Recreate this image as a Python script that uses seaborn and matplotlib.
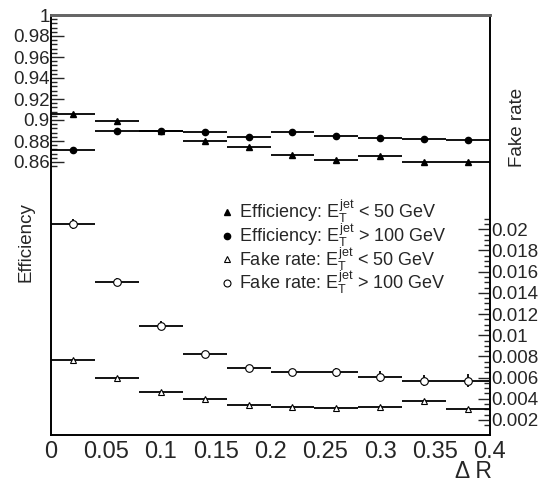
import matplotlib
matplotlib.use("Agg")
import matplotlib.pyplot as plt
import seaborn as sns
import numpy as np
from matplotlib.lines import Line2D
from matplotlib.ticker import FixedLocator

# Delta R bins (10 bins of width 0.04)
bin_centers = [0.02, 0.06, 0.10, 0.14, 0.18, 0.22, 0.26, 0.30, 0.34, 0.38]
bin_half_width = 0.02

# Efficiency (left axis)
eff_low = [0.906, 0.899, 0.890, 0.880, 0.874, 0.867, 0.862, 0.866, 0.860, 0.860]
eff_high = [0.871, 0.890, 0.890, 0.889, 0.884, 0.889, 0.885, 0.883, 0.882, 0.881]

# Fake rate (right axis)
fake_low = [0.0077, 0.0060, 0.0046, 0.0040, 0.0034, 0.0032, 0.0031, 0.0032, 0.0038, 0.0030]
fake_high = [0.0205, 0.0150, 0.0109, 0.0082, 0.0069, 0.0065, 0.0065, 0.0061, 0.0057, 0.0057]
fake_high_err = [0.0005, 0.0004, 0.0004, 0.0003, 0.0003, 0.0003, 0.0004, 0.0005, 0.0005, 0.0006]

legend_labels = [
    r"Efficiency: $E_T^{jet}$ < 50 GeV",
    r"Efficiency: $E_T^{jet}$ > 100 GeV",
    r"Fake rate: $E_T^{jet}$ < 50 GeV",
    r"Fake rate: $E_T^{jet}$ > 100 GeV",
]

sns.set_style("white")
plt.rcParams["font.family"] = ["Liberation Sans", "DejaVu Sans"]
plt.rcParams["mathtext.fontset"] = "custom"
plt.rcParams["mathtext.rm"] = "Liberation Sans"
plt.rcParams["mathtext.it"] = "Liberation Sans"
plt.rcParams["mathtext.bf"] = "Liberation Sans"

fig = plt.figure(figsize=(5.4, 4.83), dpi=100)
ax = fig.add_axes([51 / 540, 48 / 483, 439 / 540, 420 / 483])
ax2 = ax.twinx()

x = np.array(bin_centers)
ebar = dict(color="black", elinewidth=1.3, capsize=0, linestyle="none")

ax.errorbar(x, eff_low, xerr=bin_half_width, marker="^", ms=4.5,
            mfc="black", mec="black", **ebar)
ax.errorbar(x, eff_high, xerr=bin_half_width, marker="o", ms=4.5,
            mfc="black", mec="black", **ebar)
ax2.errorbar(x, fake_low, xerr=bin_half_width, marker="^", ms=5,
             mfc="white", mec="black", mew=0.8, **ebar)
ax2.errorbar(x, fake_high, xerr=bin_half_width, yerr=fake_high_err,
             marker="o", ms=5.5, mfc="white", mec="black", mew=0.8, **ebar)

ax.set_xlim(0, 0.4)
ax.set_ylim(0.6, 1.0)
ax2.set_ylim(0.00058, 0.04023)

# x ticks
ax.xaxis.set_major_locator(FixedLocator(np.arange(0, 0.401, 0.05)))
ax.xaxis.set_minor_locator(FixedLocator(np.arange(0, 0.401, 0.01)))
ax.set_xticklabels(["0", "0.05", "0.1", "0.15", "0.2", "0.25", "0.3", "0.35", "0.4"])

# left ticks only over the efficiency range
left_major = np.round(np.arange(0.86, 1.001, 0.02), 3)
ax.yaxis.set_major_locator(FixedLocator(left_major))
ax.yaxis.set_minor_locator(FixedLocator(np.arange(0.856, 1.0, 0.004)))
ax.set_yticklabels(["0.86", "0.88", "0.9", "0.92", "0.94", "0.96", "0.98", "1"])

# right ticks only over the fake-rate range
right_major = np.round(np.arange(0.002, 0.0201, 0.002), 4)
ax2.yaxis.set_major_locator(FixedLocator(right_major))
ax2.yaxis.set_minor_locator(FixedLocator(np.arange(0.0015, 0.0211, 0.0005)))
ax2.set_yticklabels(["0.002", "0.004", "0.006", "0.008", "0.01",
                     "0.012", "0.014", "0.016", "0.018", "0.02"])

ax.tick_params(axis="x", which="major", direction="in", length=11, width=1,
               labelsize=17, pad=4, top=False)
ax.tick_params(axis="x", which="minor", direction="in", length=6, width=1, top=False)
ax.tick_params(axis="y", which="major", direction="in", length=9, width=1,
               labelsize=13.5, pad=1, right=False)
ax.tick_params(axis="y", which="minor", direction="in", length=4, width=1, right=False)
ax2.tick_params(axis="y", which="major", direction="in", length=9, width=1,
                labelsize=13.5, pad=1)
ax2.tick_params(axis="y", which="minor", direction="in", length=4, width=1)

for a in (ax, ax2):
    for side in ("left", "right", "bottom"):
        a.spines[side].set_color("black")
        a.spines[side].set_linewidth(1.2)
    a.spines["top"].set_color("0.4")
    a.spines["top"].set_linewidth(2)

fig.text(26 / 540, 1 - 242 / 483, "Efficiency", rotation=90, ha="center",
         va="center", fontsize=13.5)
fig.text(517 / 540, 1 - 127 / 483, "Fake rate", rotation=90, ha="center",
         va="center", fontsize=13.5)
fig.text(492 / 540, 1 - 471 / 483, "Δ R", ha="right", va="center", fontsize=16.5)

handles = [
    Line2D([], [], marker="^", ls="none", color="black", mfc="black", ms=4.5),
    Line2D([], [], marker="o", ls="none", color="black", mfc="black", ms=4.5),
    Line2D([], [], marker="^", ls="none", color="black", mfc="white", ms=5, mew=0.8),
    Line2D([], [], marker="o", ls="none", color="black", mfc="white", ms=5, mew=0.8),
]
fig.legend(handles, legend_labels, loc="upper left",
           bbox_to_anchor=(222 / 540, 1 - 198 / 483), frameon=False,
           fontsize=13, handlelength=0.6, handletextpad=0.35,
           labelspacing=-0.2, borderaxespad=0, borderpad=0)

fig.savefig("out.png", dpi=100)
